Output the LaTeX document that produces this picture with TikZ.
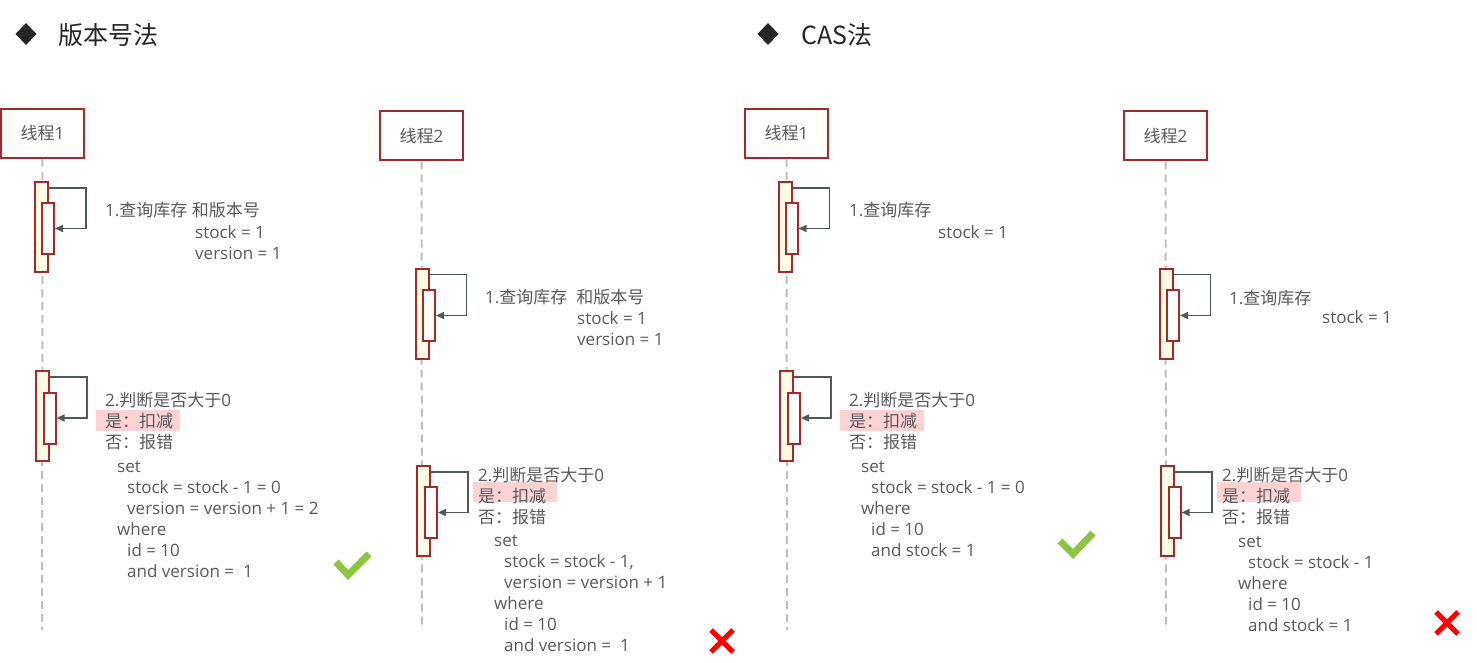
\documentclass[tikz,border=0pt]{standalone}
\usepackage{fontspec}
\setmainfont{Open Sans}
\newfontfamily\cjk{Noto Sans CJK SC}
\newcommand{\zhtxt}[1]{{\cjk #1}}
\usetikzlibrary{arrows.meta}
\definecolor{boxred}{RGB}{168,40,42}
\definecolor{barfill}{RGB}{255,253,228}
\definecolor{txtgray}{RGB}{89,89,89}
\definecolor{arrgray}{RGB}{80,88,88}
\definecolor{lifegray}{RGB}{190,190,190}
\definecolor{hlpink}{RGB}{255,211,211}
\definecolor{okgreen}{RGB}{140,198,63}
\begin{document}
\begin{tikzpicture}[x=1pt,y=-1pt,
    thread/.style={draw=boxred, line width=2pt, fill=white, minimum width=83pt, minimum height=49pt, inner sep=0pt, text=txtgray, font=\fontsize{17}{20}\selectfont},
    lifeline/.style={lifegray, line width=2pt, dash pattern=on 8pt off 5pt},
    outerbar/.style={draw=boxred, line width=2pt, fill=barfill, minimum width=13pt, minimum height=90pt, inner sep=0pt},
    innerbar/.style={draw=boxred, line width=2pt, fill=white, minimum width=12pt, minimum height=51pt, inner sep=0pt},
    selfmsg/.style={arrgray, line width=1.5pt, -{Triangle[length=8pt,width=7pt]}},
    note/.style={anchor=west, inner sep=0pt, align=left, text=txtgray, font=\fontsize{17}{21}\selectfont},
    hl/.style={fill=hlpink},
    ok/.style={okgreen, line width=7pt},
    bad/.style={red, line width=5pt},
    heading/.style={anchor=west, inner sep=0pt, text=black!85, font=\cjk\fontsize{25}{28}\selectfont}]
\useasboundingbox (0,0) rectangle (1477,663);

% 版本号法
\fill[black!85] (26,23) -- (36.5,34) -- (26,45) -- (15.5,34) -- cycle;
\node[heading] (h1) at (58,35) {版本号法};

% 线程1
\node[thread] (t1) at (42.5,133.5) {\zhtxt{线程}1};
\coordinate (e1) at (42,630);
\draw[lifeline] (t1.south) -- (e1);
\node[outerbar] (a1) at (41.5,227) {};
\node[innerbar] (b1) at (48,228.5) {};
\draw[selfmsg] ([yshift=-7pt]a1.north east) -- ++(37,0) |- (b1.east);
\node[note] (q1) at (105,210) {1.\zhtxt{查询库存}\ \zhtxt{和版本号}};
\node[note] (v1) at (195,242.5) {stock = 1\\version = 1};
\node[outerbar] (a2) at (42.5,416) {};
\node[innerbar] (b2) at (49.5,418) {};
\draw[selfmsg] ([yshift=-7pt]a2.north east) -- ++(37,0) |- (b2.east);
\fill[hl] (96,410) rectangle (180,431);
\node[note] (j1) at (105,421) {2.\zhtxt{判断是否大于}0\\\zhtxt{是：扣减}\\\zhtxt{否：报错}};
\node[note] (s1) at (117,519) {set\\\hspace*{10pt}stock = stock - 1 = 0\\\hspace*{10pt}version = version + 1 = 2\\where\\\hspace*{10pt}id = 10\\\hspace*{10pt}and version =\ \ 1};
\draw[ok] (336,562) -- (348,575) -- (369,554);

% 线程2
\node[thread] (t2) at (421.5,136) {\zhtxt{线程}2};
\coordinate (e2) at (422,630);
\draw[lifeline] (t2.south) -- (e2);
\node[outerbar] (a3) at (422,313.5) {};
\node[innerbar] (b3) at (429,315.5) {};
\draw[selfmsg] ([yshift=-7pt]a3.north east) -- ++(37,0) |- (b3.east);
\node[note] (q2) at (485,297) {1.\zhtxt{查询库存}\ \ \zhtxt{和版本号}};
\node[note] (v2) at (577,328.5) {stock = 1\\version = 1};
\node[outerbar] (a4) at (423.5,511) {};
\node[innerbar] (b4) at (431,512.5) {};
\draw[selfmsg] ([yshift=-7pt]a4.north east) -- ++(37,0) |- (b4.east);
\fill[hl] (473,482) rectangle (557,502);
\node[note] (j2) at (478,496) {2.\zhtxt{判断是否大于}0\\\zhtxt{是：扣减}\\\zhtxt{否：报错}};
\node[note] (s2) at (494,593.5) {set\\\hspace*{10pt}stock = stock - 1,\\\hspace*{10pt}version = version + 1\\where\\\hspace*{10pt}id = 10\\\hspace*{10pt}and version =\ \ 1};
\draw[bad] (711,630) -- (733,652) (711,652) -- (733,630);

% CAS法
\fill[black!85] (768,23) -- (778.5,34) -- (768,45) -- (757.5,34) -- cycle;
\node[heading] (h2) at (801,35) {CAS法};

% 线程1
\node[thread] (t3) at (786.5,133.5) {\zhtxt{线程}1};
\coordinate (e3) at (787,630);
\draw[lifeline] (t3.south) -- (e3);
\node[outerbar] (a5) at (785,227) {};
\node[innerbar] (b5) at (791.5,228.5) {};
\draw[selfmsg] ([yshift=-7pt]a5.north east) -- ++(37,0) |- (b5.east);
\node[note] (q3) at (849,210) {1.\zhtxt{查询库存}};
\node[note] (v3) at (938,232) {stock = 1};
\node[outerbar] (a6) at (786.5,416) {};
\node[innerbar] (b6) at (794,418) {};
\draw[selfmsg] ([yshift=-7pt]a6.north east) -- ++(37,0) |- (b6.east);
\fill[hl] (840,410) rectangle (924,431);
\node[note] (j3) at (849,421) {2.\zhtxt{判断是否大于}0\\\zhtxt{是：扣减}\\\zhtxt{否：报错}};
\node[note] (s3) at (861,508.5) {set\\\hspace*{10pt}stock = stock - 1 = 0\\where\\\hspace*{10pt}id = 10\\\hspace*{10pt}and stock = 1};
\draw[ok] (1060,541) -- (1073,554) -- (1093,533);

% 线程2
\node[thread] (t4) at (1165.5,136) {\zhtxt{线程}2};
\coordinate (e4) at (1166,630);
\draw[lifeline] (t4.south) -- (e4);
\node[outerbar] (a7) at (1166,313.5) {};
\node[innerbar] (b7) at (1173,315.5) {};
\draw[selfmsg] ([yshift=-7pt]a7.north east) -- ++(37,0) |- (b7.east);
\node[note] (q4) at (1229,298) {1.\zhtxt{查询库存}};
\node[note] (v4) at (1322,317) {stock = 1};
\node[outerbar] (a8) at (1167.5,511) {};
\node[innerbar] (b8) at (1174.5,512.5) {};
\draw[selfmsg] ([yshift=-7pt]a8.north east) -- ++(37,0) |- (b8.east);
\fill[hl] (1217,482) rectangle (1301,502);
\node[note] (j4) at (1222,496) {2.\zhtxt{判断是否大于}0\\\zhtxt{是：扣减}\\\zhtxt{否：报错}};
\node[note] (s4) at (1238,583.5) {set\\\hspace*{10pt}stock = stock - 1\\where\\\hspace*{10pt}id = 10\\\hspace*{10pt}and stock = 1};
\draw[bad] (1436,612) -- (1458,634) (1436,634) -- (1458,612);
\end{tikzpicture}
\end{document}
